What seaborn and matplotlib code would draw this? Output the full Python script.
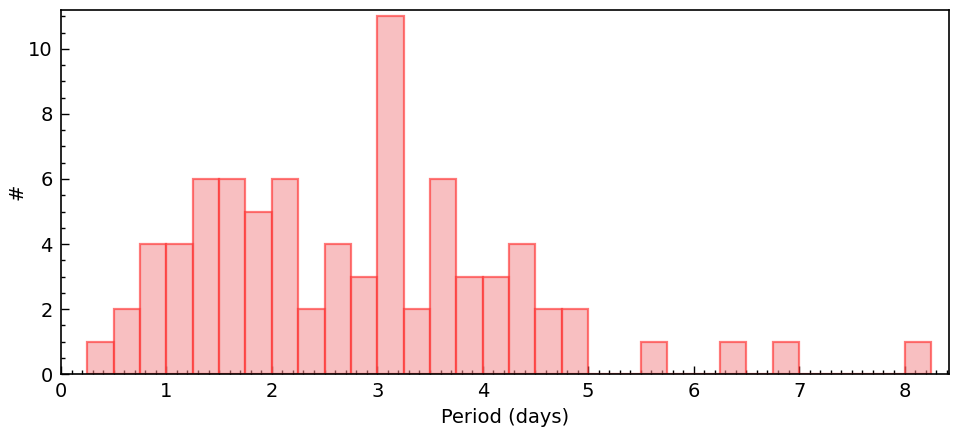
import numpy as np
import pandas as pd
import matplotlib
matplotlib.use("Agg")
import matplotlib.pyplot as plt
from matplotlib.ticker import MultipleLocator
import seaborn as sns

sns.set_style("ticks")
plt.rcParams["font.family"] = ["DejaVu Sans"]

# Histogram of periods: bin edges (days) and counts per bin
bin_left = [0.25, 0.5, 0.75, 1.0, 1.25, 1.5, 1.75, 2.0, 2.25, 2.5, 2.75, 3.0,
            3.25, 3.5, 3.75, 4.0, 4.25, 4.5, 4.75, 5.5, 6.25, 6.75, 8.0]
counts = [1, 2, 4, 4, 6, 6, 5, 6, 2, 4, 3, 11,
          2, 6, 3, 3, 4, 2, 2, 1, 1, 1, 1]
bin_width = 0.25

df = pd.DataFrame({"period": np.array(bin_left) + bin_width / 2,
                   "n": np.array(counts, dtype=float)})

fig = plt.figure(figsize=(9.63, 4.3), dpi=100)
ax = fig.add_axes([0.0633, 0.130, 0.922, 0.847])

sns.histplot(data=df, x="period", weights="n", binwidth=bin_width,
             binrange=(0.25, 8.25), ax=ax,
             color="#f48c8e", alpha=0.55, edgecolor=(1.0, 0.2, 0.2, 0.65),
             linewidth=1.6)

ax.set_xlim(0, 8.42)
ax.set_ylim(0, 11.2)
ax.xaxis.set_major_locator(MultipleLocator(1))
ax.xaxis.set_minor_locator(MultipleLocator(0.1))
ax.yaxis.set_major_locator(MultipleLocator(2))
ax.yaxis.set_minor_locator(MultipleLocator(0.5))
ax.tick_params(which="both", direction="in", top=False, right=False,
               labelsize=14, color="black", labelcolor="black")
ax.tick_params(which="major", length=6, width=1, pad=6)
ax.tick_params(which="minor", length=3, width=1)
for s in ax.spines.values():
    s.set_linewidth(1.2)
    s.set_color("black")

ax.set_xlabel("Period (days)", fontsize=14, labelpad=5, color="black")
ax.set_ylabel("#", fontsize=14, labelpad=1, color="black")

plt.savefig("out.png", dpi=100)
